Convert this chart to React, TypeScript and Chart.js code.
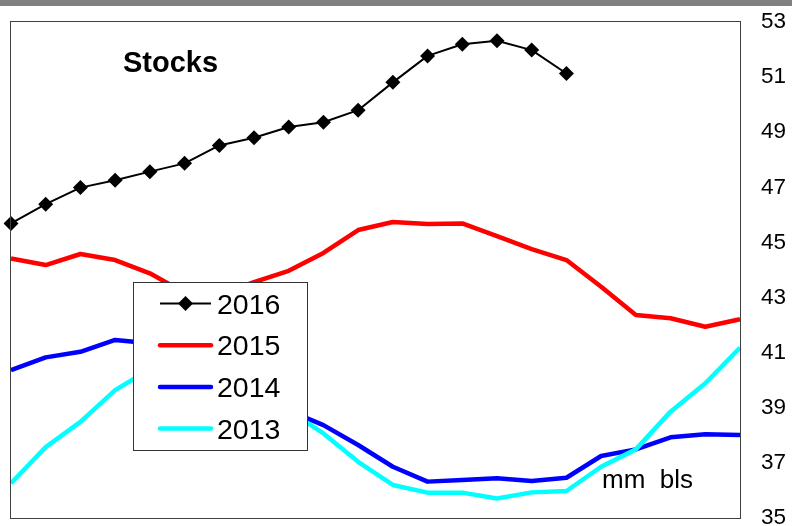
import React, { useEffect, useRef } from 'react';
import { Chart, registerables } from 'chart.js';

Chart.register(...registerables);

const weeks = ['1', '2', '3', '4', '5', '6', '7', '8', '9', '10', '11', '12', '13', '14', '15', '16', '17', '18', '19', '20', '21', '22'];
const stocks2016 = [45.69, 46.39, 46.99, 47.26, 47.57, 47.87, 48.52, 48.8, 49.19, 49.36, 49.8, 50.81, 51.77, 52.19, 52.32, 51.98, 51.13];
const stocks2015 = [44.42, 44.18, 44.58, 44.36, 43.88, 43.18, 43.1, 43.56, 43.97, 44.62, 45.45, 45.74, 45.67, 45.69, 45.23, 44.76, 44.36, 43.39, 42.37, 42.25, 41.94, 42.21];
const stocks2014 = [40.37, 40.83, 41.03, 41.46, 41.34, 41.1, 40.4, 39.6, 38.9, 38.37, 37.65, 36.86, 36.32, 36.38, 36.44, 36.34, 36.46, 37.25, 37.49, 37.93, 38.04, 38.01];
const stocks2013 = [36.26, 37.57, 38.49, 39.64, 40.4, 40.6, 40.2, 39.6, 38.9, 38.07, 37.04, 36.2, 35.92, 35.92, 35.71, 35.93, 35.98, 36.86, 37.49, 38.86, 39.89, 41.18];
const seriesLabels = ['2016', '2015', '2014', '2013'];
const seriesColors = ['#000000', '#FF0000', '#0000FF', '#00FFFF'];
const yMin = 35;
const yMax = 53;
const yStep = 2;
const titleText = 'Stocks';
const unitText = 'mm  bls';

const FONT = "'Liberation Sans', Arial, sans-serif";

const decorPlugin = {
  id: 'decor',
  beforeDraw(chart: any) {
    const ctx = chart.ctx;
    ctx.save();
    ctx.fillStyle = '#ffffff';
    ctx.fillRect(0, 0, chart.width, chart.height);
    ctx.fillStyle = '#808080';
    ctx.fillRect(0, 0, chart.width, 6);
    ctx.restore();
  },
  afterDraw(chart: any) {
    const ctx = chart.ctx;
    const a = chart.chartArea;
    ctx.save();
    ctx.strokeStyle = '#404040';
    ctx.lineWidth = 1;
    ctx.strokeRect(Math.round(a.left) - 0.5, Math.round(a.top) - 0.5, Math.round(a.right - a.left) + 1, Math.round(a.bottom - a.top) + 1);

    ctx.fillStyle = '#000000';
    ctx.font = `bold 29px ${FONT}`;
    ctx.textAlign = 'left';
    ctx.textBaseline = 'alphabetic';
    ctx.fillText(titleText, 123, 72);

    ctx.font = `26px ${FONT}`;
    ctx.fillText(unitText, 602, 488);

    const bx = 133.5, by = 282.5, bw = 174, bh = 168;
    ctx.fillStyle = '#ffffff';
    ctx.fillRect(bx, by, bw, bh);
    ctx.strokeStyle = '#333333';
    ctx.lineWidth = 1;
    ctx.strokeRect(bx, by, bw, bh);
    const ds = chart.data.datasets;
    ds.forEach((d: any, i: number) => {
      const cy = 303.5 + i * 41.7;
      ctx.beginPath();
      ctx.strokeStyle = d.borderColor;
      ctx.lineWidth = d.borderWidth;
      ctx.lineCap = i === 0 ? 'butt' : 'round';
      ctx.moveTo(160, cy);
      ctx.lineTo(211, cy);
      ctx.stroke();
      if (i === 0) {
        const r = 7.5;
        ctx.beginPath();
        ctx.fillStyle = '#000000';
        ctx.moveTo(185.5 - r, cy);
        ctx.lineTo(185.5, cy - r);
        ctx.lineTo(185.5 + r, cy);
        ctx.lineTo(185.5, cy + r);
        ctx.closePath();
        ctx.fill();
      }
      ctx.fillStyle = '#000000';
      ctx.font = `28.5px ${FONT}`;
      ctx.textAlign = 'left';
      ctx.textBaseline = 'alphabetic';
      ctx.fillText(d.label, 217, cy + 10);
    });
    ctx.restore();
  },
};

export default function App() {
  const canvasRef = useRef<HTMLCanvasElement | null>(null);

  useEffect(() => {
    const canvas = canvasRef.current;
    if (!canvas) return;
    const seriesData = [stocks2016, stocks2015, stocks2014, stocks2013];
    const chart = new Chart(canvas, {
      type: 'line',
      data: {
        labels: weeks,
        datasets: seriesData.map((values, i) => ({
          label: seriesLabels[i],
          data: values,
          borderColor: seriesColors[i],
          backgroundColor: seriesColors[i],
          borderWidth: i === 0 ? 2 : 4.5,
          pointRadius: i === 0 ? 7.5 : 0,
          pointHoverRadius: i === 0 ? 7.5 : 0,
          pointStyle: 'rectRot',
          pointBorderWidth: 0,
          pointBackgroundColor: '#000000',
          tension: 0,
          fill: false,
          order: i === 3 ? 1 : i === 2 ? 2 : i === 1 ? 3 : 0,
          borderCapStyle: 'butt',
          borderJoinStyle: 'round',
        })),
      },
      options: {
        responsive: false,
        animation: false,
        devicePixelRatio: 1,
        layout: { padding: { left: 11, top: 22, right: 0, bottom: 8 } },
        plugins: {
          legend: { display: false },
          tooltip: { enabled: false },
          title: { display: false },
        },
        scales: {
          x: {
            type: 'category',
            display: false,
            offset: false,
            grid: { display: false },
          },
          y: {
            position: 'right',
            min: yMin,
            max: yMax,
            ticks: {
              stepSize: yStep,
              color: '#000000',
              padding: 21,
              font: { family: FONT, size: 22.5 },
            },
            grid: { display: false, drawTicks: false },
            border: { display: false },
            afterFit(scale: any) {
              scale.width = 52;
              scale.paddingTop = 0;
              scale.paddingBottom = 0;
            },
          },
        },
      },
      plugins: [decorPlugin],
    });
    return () => chart.destroy();
  }, []);

  return (
    <div style={{ position: 'fixed', left: 0, top: 0, width: 792, height: 526, background: '#fff' }}>
      <canvas ref={canvasRef} width={792} height={526} style={{ display: 'block' }} />
    </div>
  );
}
